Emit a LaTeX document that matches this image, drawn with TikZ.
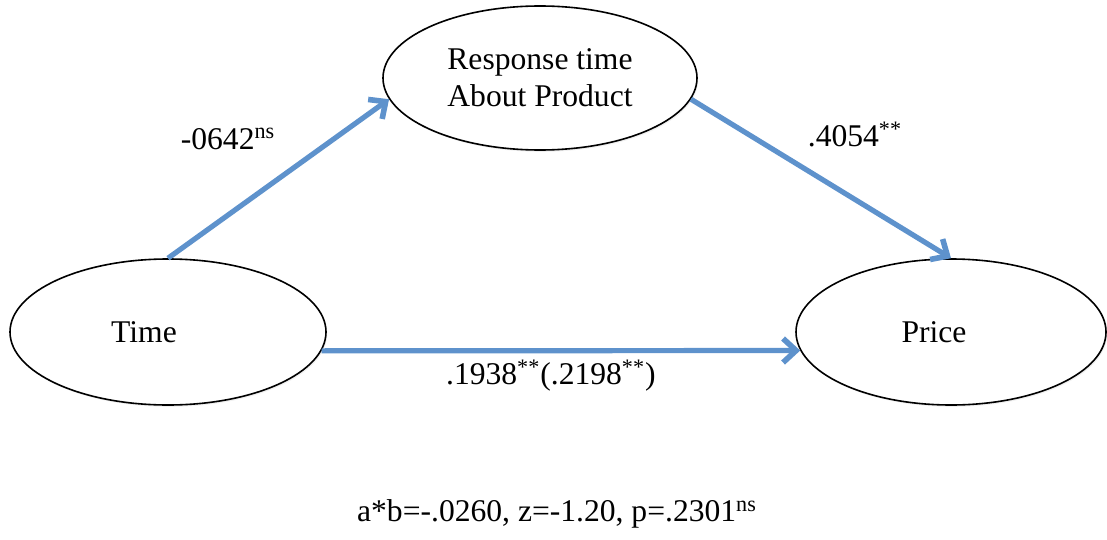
\documentclass[tikz,border=0pt]{standalone}
\usepackage{fontspec}
\setmainfont{Liberation Serif}
\usetikzlibrary{arrows.meta,shapes.geometric,shadows}
\definecolor{pathblue}{RGB}{94,146,204}

\begin{document}
\begin{tikzpicture}[x=0.5pt,y=-0.5pt,
    font=\fontsize{15.8}{18.5}\selectfont,
    var/.style={ellipse, draw, line width=0.8pt, fill=white, inner sep=0pt,
      minimum height=73pt, align=center,
      drop shadow={shadow xshift=0.6pt, shadow yshift=-0.9pt, opacity=0.12}},
    link/.style={draw=pathblue, line width=2.6pt,
      -{Straight Barb[length=6.5pt,width=12pt,line width=2.8pt]}}]
    \useasboundingbox (0,0) rectangle (1107,540);
    \node(time)[var, minimum width=158pt, label={[xshift=-12pt]center:Time}] at (168,332) {};
    \node(rt)[var, minimum width=157pt, minimum height=72pt] at (540,78) {Response time\\About Product};
    \node(price)[var, minimum width=155pt, label={[xshift=-8.5pt]center:Price}] at (951,332) {};
    \draw[link] (time.north) -- (rt.188) node[midway, above left, xshift=3pt, yshift=10pt] {-0642\textsuperscript{ns}};
    \draw[link] (rt.352) -- (price.north) node[midway, above, xshift=17pt, yshift=11pt] {.4054\textsuperscript{**}};
    \draw[link] (time.353) -- (price.187) node[midway, below, xshift=-5pt] {.1938\textsuperscript{**}(.2198\textsuperscript{**})};
    \node(ind) at (557,514) {a*b=-.0260, z=-1.20, p=.2301\textsuperscript{ns}};
  \end{tikzpicture}
\end{document}
